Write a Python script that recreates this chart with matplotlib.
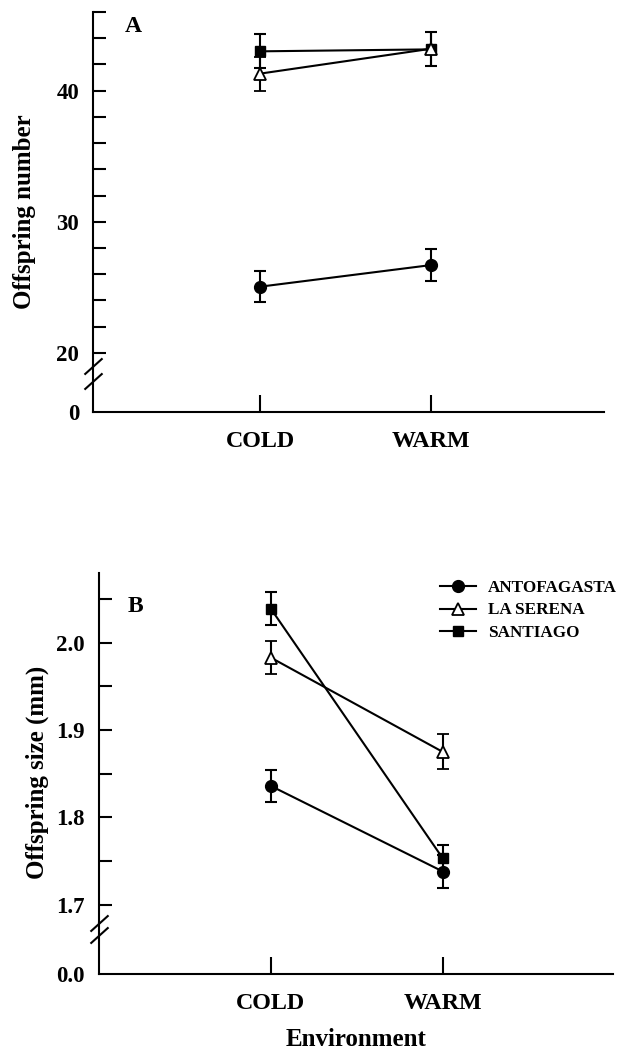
import matplotlib
matplotlib.use("Agg")
import matplotlib.pyplot as plt
from matplotlib.lines import Line2D
import numpy as np

# ---------------- data ----------------
environments = ["COLD", "WARM"]
populations = ["ANTOFAGASTA", "LA SERENA", "SANTIAGO"]

num_antofagasta = [25.05, 26.7]
num_antofagasta_err = [1.2, 1.25]
num_laserena = [41.3, 43.2]
num_laserena_err = [1.3, 1.3]
num_santiago = [43.0, 43.15]
num_santiago_err = [1.3, 1.3]

size_antofagasta = [1.836, 1.738]
size_antofagasta_err = [0.018, 0.019]
size_laserena = [1.983, 1.875]
size_laserena_err = [0.019, 0.020]
size_santiago = [2.039, 1.753]
size_santiago_err = [0.019, 0.015]

# ---------------- style ----------------
plt.rcParams['font.family'] = ['Liberation Serif', 'DejaVu Serif']
plt.rcParams['font.weight'] = 'bold'
W, H = 623, 1056
fig = plt.figure(figsize=(W / 100, H / 100), dpi=100)

def fr(x0, y0, x1, y1):
    """pixel box -> figure fraction rect"""
    return [x0 / W, 1 - y1 / H, (x1 - x0) / W, (y1 - y0) / H]

LW = 1.5
YTICKFS = 16.5
XTICKFS = 17.3
LABFS = 18

styles = {
    "ANTOFAGASTA": dict(marker='o', mfc='black', mec='black', ms=8.5),
    "LA SERENA": dict(marker='^', mfc='white', mec='black', ms=8, mew=1.3),
    "SANTIAGO": dict(marker='s', mfc='black', mec='black', ms=7.5),
}

x = np.arange(len(environments))


def panel(main_box, low_box, xlim, ylim, major, minor, fmt, low_label,
          series, panel_letter, letter_xy, low_slash_frac):
    axm = fig.add_axes(fr(*main_box))
    axl = fig.add_axes(fr(*low_box))
    for ax in (axm, axl):
        ax.set_facecolor('none')
        ax.set_xlim(*xlim)
        for s in ('top', 'right'):
            ax.spines[s].set_visible(False)
        ax.spines['left'].set_linewidth(LW)
    axm.spines['bottom'].set_visible(False)
    axl.spines['bottom'].set_linewidth(LW)

    axm.set_ylim(*ylim)
    axm.set_yticks(major)
    axm.set_yticklabels([fmt.format(v) for v in major])
    axm.set_yticks(minor, minor=True)
    axm.tick_params(axis='y', which='both', direction='in', length=9,
                    width=LW, labelsize=YTICKFS, pad=10)
    axm.set_xticks([])

    axl.set_ylim(0, 1)
    axl.set_yticks([0])
    axl.set_yticklabels([low_label])
    axl.tick_params(axis='y', direction='in', length=0, labelsize=YTICKFS, pad=10)
    axl.set_xticks(x)
    axl.set_xticklabels(environments)
    axl.tick_params(axis='x', direction='in', length=12, width=LW,
                    labelsize=XTICKFS, pad=14)

    handles = {}
    for name in ["SANTIAGO", "LA SERENA", "ANTOFAGASTA"]:
        vals, errs = series[name]
        axm.errorbar(x, vals, yerr=errs, color='black', lw=LW,
                     elinewidth=LW, capsize=4, capthick=LW,
                     clip_on=False, zorder=3, **styles[name])
        handles[name] = Line2D([], [], color='black', lw=LW, **styles[name])

    # axis-break slashes
    for ax, ypos in ((axm, 0.0), (axl, low_slash_frac)):
        ax.plot([0], [ypos], transform=ax.transAxes,
                marker=[(-1, -0.9), (1, 0.9)],
                markersize=13, mew=LW, color='black', linestyle='none',
                clip_on=False)

    fig.text(letter_xy[0] / W, 1 - letter_xy[1] / H, panel_letter,
             fontsize=17, fontweight='bold', ha='left', va='center')
    return axm, axl, handles


# Panel A
axA, axA2, _ = panel((93, 12, 604, 366), (93, 366, 604, 412),
                     (-0.977, 2.01), (19.0, 46),
                     [20, 30, 40], np.arange(20, 47, 2), "{:.0f}", "0",
                     {"ANTOFAGASTA": (num_antofagasta, num_antofagasta_err),
                      "LA SERENA": (num_laserena, num_laserena_err),
                      "SANTIAGO": (num_santiago, num_santiago_err)},
                     "A", (125, 27), (412 - 381) / 46)
fig.text(25 / W, 1 - 212 / H, "Offspring number", rotation=90,
         fontsize=LABFS, fontweight='bold', ha='center', va='center')

# Panel B
axB, axB2, hB = panel((99, 573, 613, 923), (99, 923, 613, 974),
                      (-1.0, 1.99), (1.679, 2.08),
                      [1.7, 1.8, 1.9, 2.0], np.arange(1.70, 2.08, 0.05),
                      "{:.1f}", "0.0",
                      {"ANTOFAGASTA": (size_antofagasta, size_antofagasta_err),
                       "LA SERENA": (size_laserena, size_laserena_err),
                       "SANTIAGO": (size_santiago, size_santiago_err)},
                      "B", (128, 606), (974 - 935) / 51)
fig.text(37 / W, 1 - 772 / H, "Offspring size (mm)", rotation=90,
         fontsize=LABFS, fontweight='bold', ha='center', va='center')
fig.text(356 / W, 1 - 1040 / H, "Environment",
         fontsize=LABFS, fontweight='bold', ha='center', va='center')

fig.legend([hB[p] for p in populations], populations,
           loc='upper left', bbox_to_anchor=(440 / W, 1 - 580 / H),
           frameon=False, borderpad=0, borderaxespad=0,
           handlelength=2.1, handletextpad=0.7, labelspacing=0.38,
           prop={'family': 'Liberation Serif', 'weight': 'bold', 'size': 12.3})

fig.savefig("out.png", dpi=100)
